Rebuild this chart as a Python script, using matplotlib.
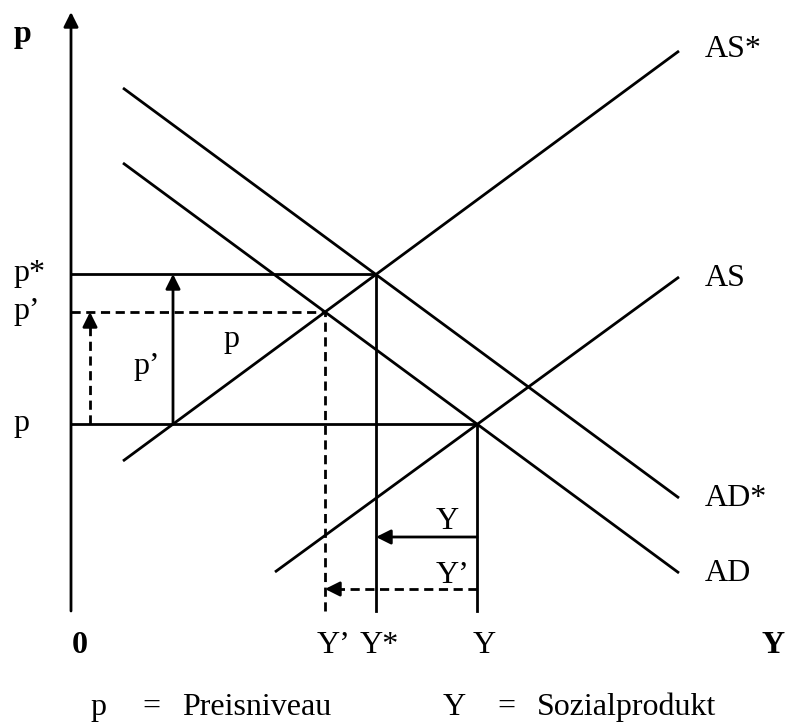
import matplotlib.pyplot as plt

# curve end points (Y, p) in diagram units, origin at the axes crossing
AD_star = ([52, 608], [523, 113])
AD = ([52, 608], [448, 38])
AS_star = ([52, 608], [150, 560])
AS = ([204, 608], [39, 334])

# price levels and output levels
p0, p_dash, p_star = 187, 299, 337
Y_dash, Y_star, Y0 = 254, 305, 406

# arrow positions
x_arrow_dash, x_arrow_solid = 19, 102
y_arrow_solid, y_arrow_dash = 74, 22

curve_labels = ['AS*', 'AS', 'AD*', 'AD']
curve_label_y = [554, 325, 105, 30]

plt.rcParams['font.family'] = ['Liberation Serif', 'DejaVu Serif']
FS = 23
LW = 2.0
DASH = (0, (3.3, 2))

fig = plt.figure(figsize=(7.99, 7.24), dpi=100)
ax = fig.add_axes([0, 0, 1, 1])
ax.set_xlim(-71, 728)
ax.set_ylim(-113, 611)
ax.axis('off')


def head(tip, frm):
    ax.annotate('', xy=tip, xytext=frm,
                arrowprops=dict(arrowstyle='-|>', color='black', lw=LW,
                                mutation_scale=22, shrinkA=0, shrinkB=0))


# axes with arrows
head((0, 599), (0, 0))
head((733, 0), (0, 0))

# curves
for xs, ys in [AD_star, AD, AS_star, AS]:
    ax.plot(xs, ys, color='black', lw=LW, solid_capstyle='butt')

# level lines
ax.plot([0, Y_star], [p_star, p_star], color='black', lw=LW)
ax.plot([0, Y0], [p0, p0], color='black', lw=LW)
ax.plot([0, Y_dash], [p_dash, p_dash], color='black', lw=LW, linestyle=DASH)
ax.plot([Y_star, Y_star], [0, p_star], color='black', lw=LW)
ax.plot([Y0, Y0], [0, p0], color='black', lw=LW)
ax.plot([Y_dash, Y_dash], [0, p_dash], color='black', lw=LW, linestyle=DASH)

# shift arrows
head((x_arrow_solid, p_star), (x_arrow_solid, p0))
ax.plot([x_arrow_dash, x_arrow_dash], [p0, p_dash - 10], color='black', lw=LW, linestyle=DASH)
head((x_arrow_dash, p_dash), (x_arrow_dash, p_dash - 12))
head((Y_star, y_arrow_solid), (Y0, y_arrow_solid))
ax.plot([Y0, Y_dash + 10], [y_arrow_dash, y_arrow_dash], color='black', lw=LW, linestyle=DASH)
head((Y_dash, y_arrow_dash), (Y_dash + 12, y_arrow_dash))

# curve labels
for lab, ly in zip(curve_labels, curve_label_y):
    ax.text(634, ly, lab, fontsize=FS, va='baseline', ha='left')

# axis titles
ax.text(-49, 569, 'p', fontsize=FS, fontweight='bold', ha='center', va='baseline')
ax.text(702, -42, 'Y', fontsize=FS, fontweight='bold', ha='center', va='baseline')
ax.text(1, -42, '0', fontsize=FS, fontweight='bold', ha='left', va='baseline')

# p-axis labels
ax.text(-58, 330, 'p*', fontsize=FS, va='baseline')
ax.text(-58, 292, 'p\u2019', fontsize=FS, va='baseline')
ax.text(-58, 180, 'p', fontsize=FS, va='baseline')
ax.text(62, 237, 'p\u2019', fontsize=FS, va='baseline')
ax.text(152, 264, 'p', fontsize=FS, va='baseline')

# Y-axis labels
ax.text(246, -42, 'Y\u2019', fontsize=FS, va='baseline')
ax.text(289, -42, 'Y*', fontsize=FS, va='baseline')
ax.text(402, -42, 'Y', fontsize=FS, va='baseline')
ax.text(365, 82, 'Y', fontsize=FS, va='baseline')
ax.text(365, 28, 'Y\u2019', fontsize=FS, va='baseline')

# legend line
leg_y = -104
ax.text(19, leg_y, 'p', fontsize=FS, va='baseline')
ax.text(71, leg_y, '=', fontsize=FS, va='baseline')
ax.text(111, leg_y, 'Preisniveau', fontsize=FS, va='baseline')
ax.text(372, leg_y, 'Y', fontsize=FS, va='baseline')
ax.text(426, leg_y, '=', fontsize=FS, va='baseline')
ax.text(466, leg_y, 'Sozialprodukt', fontsize=FS, va='baseline')

fig.savefig('out.png', dpi=100)
